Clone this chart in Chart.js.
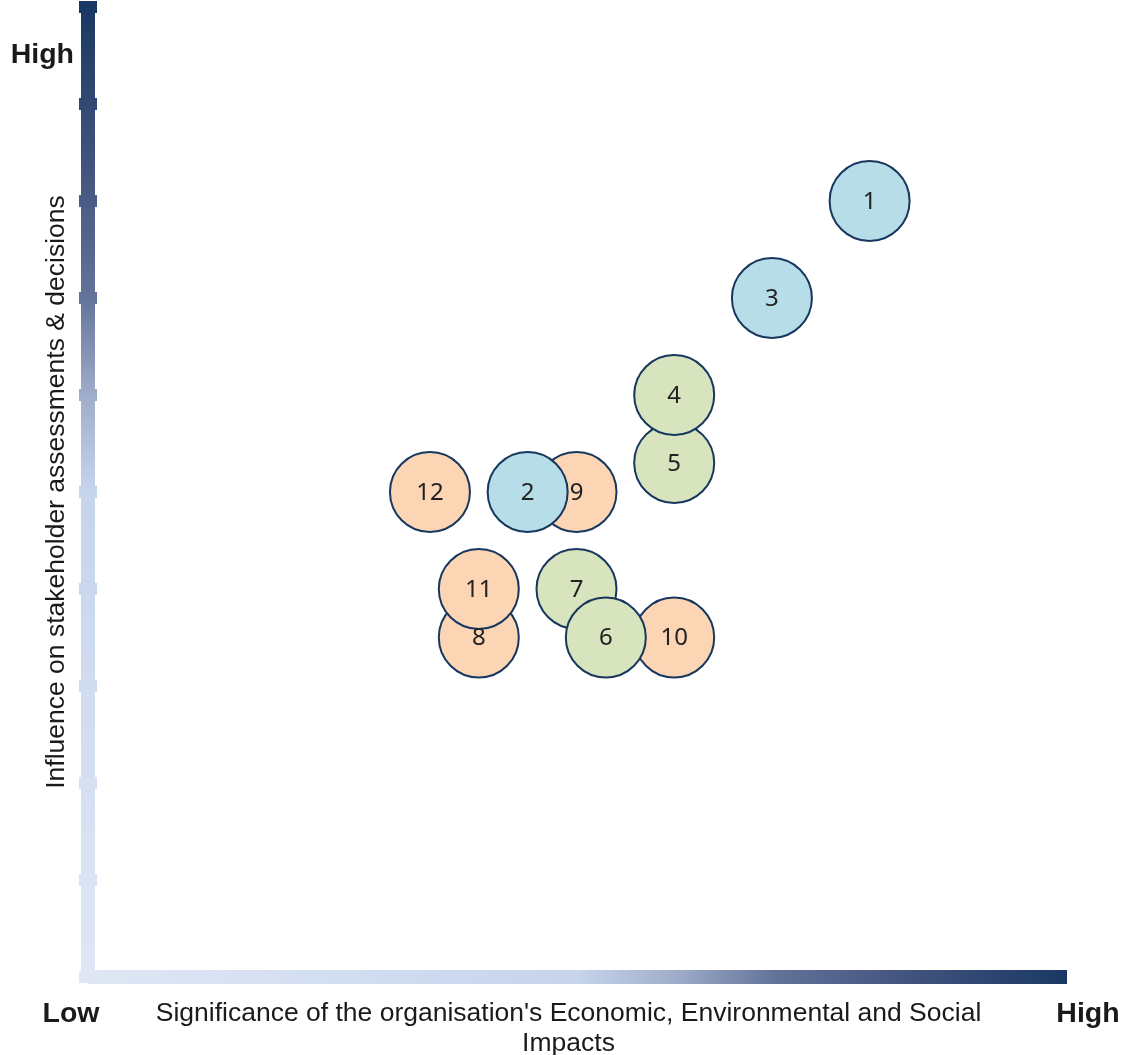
<!DOCTYPE html>
<html>
<head>
<meta charset="utf-8">
<script src="https://cdn.jsdelivr.net/npm/chart.js@4/dist/chart.umd.min.js"></script>
<style>
    body { margin: 0; background: #fff; }
    .wrap { width: 1123px; height: 1055px; position: relative; }
</style>
</head>
<body>
<div class="wrap"><canvas id="matrix"></canvas></div>
<script>
// topics, grouped by colour
const blueIds = [1, 3, 2]
const blueX = [8, 7, 4.5]
const blueY = [8, 7, 5]

const greenIds = [5, 4, 7, 6]
const greenX = [6, 6, 5, 5.3]
const greenY = [5.3, 6, 4, 3.5]

const peachIds = [12, 9, 8, 11, 10]
const peachX = [3.5, 5, 4, 4, 6]
const peachY = [5, 5, 3.5, 4, 3.5]

const axisTicks = [0, 1, 2, 3, 4, 5, 6, 7, 8, 9, 10]
const xTitleLines = ["Significance of the organisation's Economic, Environmental and Social", 'Impacts']
const yTitle = 'Influence on stakeholder assessments & decisions'
const lowLabel = 'Low'
const highLabel = 'High'

const toPoints = (xs, ys, ids) => xs.map((x, i) => ({ x: x, y: ys[i], id: ids[i] }))

const gradStops = [
    [0, '#dfe7f5'],
    [0.5, '#c6d4ec'],
    [0.6, '#a0adca'],
    [0.7, '#63739a'],
    [0.82, '#465781'],
    [1, '#193863'],
]

const axesPlugin = {
    id: 'gradientAxes',
    beforeDatasetsDraw(chart) {
        const ctx = chart.ctx
        const xs = chart.scales.x
        const ys = chart.scales.y
        const x0 = xs.getPixelForValue(0)
        const x1 = xs.getPixelForValue(10)
        const y0 = ys.getPixelForValue(0)
        const y1 = ys.getPixelForValue(10)

        // vertical bar, light at bottom, dark at top
        const gv = ctx.createLinearGradient(0, y0, 0, y1)
        gradStops.forEach(s => gv.addColorStop(s[0], s[1]))
        ctx.save()
        ctx.fillStyle = gv
        ctx.fillRect(x0 - 7, y1, 14, y0 - y1)
        axisTicks.forEach(t => {
            const py = ys.getPixelForValue(t)
            ctx.fillRect(x0 - 9, py - 6, 18, 12)
        })

        // horizontal bar, light at left, dark at right
        const gh = ctx.createLinearGradient(x0, 0, x1 + 2, 0)
        gradStops.forEach(s => gh.addColorStop(s[0], s[1]))
        ctx.fillStyle = gh
        ctx.fillRect(x0, y0 - 7, x1 + 2 - x0, 14)
        ctx.restore()

        // axis texts
        ctx.save()
        ctx.fillStyle = '#1a1a1a'
        ctx.textBaseline = 'middle'
        ctx.font = 'bold 28.5px "Liberation Sans", Arial, sans-serif'
        ctx.textAlign = 'right'
        ctx.fillText(highLabel, x0 - 14, ys.getPixelForValue(9.5))
        ctx.textAlign = 'center'
        ctx.fillText(lowLabel, x0 - 17, y0 + 37)
        ctx.fillText(highLabel, x1 + 23, y0 + 37)

        ctx.font = '26.5px "Liberation Sans", Arial, sans-serif'
        const cx = (x0 + x1) / 2 - 8
        xTitleLines.forEach((line, i) => {
            ctx.fillText(line, cx, y0 + 37 + i * 30)
        })
        ctx.translate(x0 - 31, (y0 + y1) / 2)
        ctx.rotate(-Math.PI / 2)
        ctx.fillText(yTitle, 0, 0)
        ctx.restore()
    },
    afterDatasetDraw(chart, args) {
        const ctx = chart.ctx
        const meta = args.meta
        const data = chart.data.datasets[args.index].data
        ctx.save()
        ctx.fillStyle = '#222'
        ctx.font = '24px "Noto Sans", "Open Sans", sans-serif'
        ctx.textAlign = 'center'
        ctx.textBaseline = 'middle'
        meta.data.forEach((pt, i) => {
            ctx.fillText(String(data[i].id), pt.x, pt.y + 1)
        })
        ctx.restore()
    },
}

const common = {
    pointRadius: 40,
    pointHoverRadius: 40,
    borderColor: '#17375e',
    borderWidth: 2,
    pointBorderWidth: 2,
}

new Chart(document.getElementById('matrix'), {
    type: 'scatter',
    data: {
        datasets: [
            Object.assign({ data: toPoints(blueX, blueY, blueIds), backgroundColor: '#b7dde8', order: 1 }, common),
            Object.assign({ data: toPoints(greenX, greenY, greenIds), backgroundColor: '#d7e4bd', order: 2 }, common),
            Object.assign({ data: toPoints(peachX, peachY, peachIds), backgroundColor: '#fcd5b5', order: 3 }, common),
        ],
    },
    options: {
        responsive: true,
        maintainAspectRatio: false,
        animation: false,
        events: [],
        layout: { autoPadding: false, padding: { left: 88, right: 58, top: 7, bottom: 78 } },
        plugins: { legend: { display: false }, tooltip: { enabled: false } },
        scales: {
            x: { type: 'linear', min: 0, max: 10, display: false },
            y: { type: 'linear', min: 0, max: 10, display: false },
        },
    },
    plugins: [axesPlugin],
})
</script>
</body>
</html>
